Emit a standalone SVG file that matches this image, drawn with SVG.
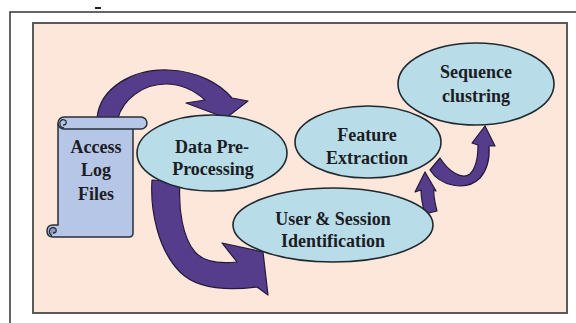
<svg xmlns="http://www.w3.org/2000/svg" width="576" height="323" viewBox="0 0 576 323">
  <style>
    .lbl { font-family: "Liberation Serif", "Times New Roman", serif; font-weight: bold; font-size: 18px; fill: #1c1c24; text-anchor: middle; }
    .node { fill: #b8dde8; stroke: #1f2a30; stroke-width: 1.6; }
    .flow { fill: #563d8c; stroke: #231a3a; stroke-width: 1.2; stroke-linejoin: round; }
    .scroll { fill: #b6c6e6; stroke: #2a2f3a; stroke-width: 1.5; }
  </style>

  <!-- page background and outer frame -->
  <rect x="0" y="0" width="576" height="323" fill="#ffffff"/>
  <rect x="95" y="7" width="6" height="2" fill="#222"/>
  <path d="M10 323 V12 H576" fill="none" stroke="#333" stroke-width="1.5"/>

  <!-- panel -->
  <rect x="33" y="23" width="534" height="290" fill="#fde6da" stroke="#5a5a5a" stroke-width="2"/>

  <!-- flow arrows -->
  <g id="connectors">
    <!-- Access Log Files to Data Pre-Processing -->
    <path class="flow" d="M97 118 C100 88 132 69 168 70 C198 71 220 84 232 98 L248 101 L226 118 L186 103 L205 100 C195 91 182 84 166 84 C142 84 123 100 118 118 Z"/>
    <!-- Data Pre-Processing to User &amp; Session Identification -->
    <path class="flow" d="M152 180 C150 210 158 250 180 272 C196 288 225 291 257 287 L268 295 L263 252 L222 243 L237 262 C220 264 204 262 195 252 C183 238 178 210 180 182 Z"/>
    <!-- User &amp; Session Identification to Feature Extraction -->
    <path class="flow" d="M425 214 L437 211 C435 203 433 196 434 189 L436 191 L425 172 L415 192 L421 190 C421 199 423 207 425 214 Z"/>
    <!-- Feature Extraction to Sequence clustring -->
    <path class="flow" d="M430 170 C440 186 466 192 480 178 C487 170 490 160 489 146 L495 146 L485 126 L472 143 L478 145 C478 158 476 168 470 174 C462 180 449 172 440 158 Z"/>
  </g>

  <!-- Access Log Files (scroll) -->
  <g id="access-log-files">
    <path class="scroll" d="M58 124 H133 V233 Q133 237 129 237 H53 Q47 237 47 231 Q47 225 53 225 H58 Z"/>
    <rect class="scroll" x="58" y="117" width="89" height="12" rx="6"/>
    <path d="M64 128 Q59 127 60 122 Q62 118 66 121 Q67 125 63 125" fill="none" stroke="#2a2f3a" stroke-width="1.3"/>
    <path d="M52 236 Q48 233 50 229 Q53 226 56 229 Q57 233 53 233" fill="#8c9cc0" stroke="#2a2f3a" stroke-width="1.3"/>
    <text class="lbl" x="96" y="153">Access</text>
    <text class="lbl" x="96" y="176">Log</text>
    <text class="lbl" x="96" y="200">Files</text>
  </g>

  <!-- Data Pre-Processing -->
  <g id="data-pre-processing">
    <ellipse class="node" cx="212" cy="153" rx="75" ry="38"/>
    <text class="lbl" x="212" y="153">Data Pre-</text>
    <text class="lbl" x="213" y="175">Processing</text>
  </g>

  <!-- User & Session Identification -->
  <g id="user-session-identification">
    <ellipse class="node" cx="333" cy="225" rx="100" ry="37"/>
    <text class="lbl" x="333" y="225">User &amp; Session</text>
    <text class="lbl" x="333" y="247">Identification</text>
  </g>

  <!-- Feature Extraction -->
  <g id="feature-extraction">
    <ellipse class="node" cx="368" cy="142" rx="73" ry="36"/>
    <text class="lbl" x="367" y="141">Feature</text>
    <text class="lbl" x="367" y="164">Extraction</text>
  </g>

  <!-- Sequence clustring -->
  <g id="sequence-clustring">
    <ellipse class="node" cx="476" cy="84" rx="78" ry="41"/>
    <text class="lbl" x="476" y="78">Sequence</text>
    <text class="lbl" x="476" y="102">clustring</text>
  </g>
</svg>
